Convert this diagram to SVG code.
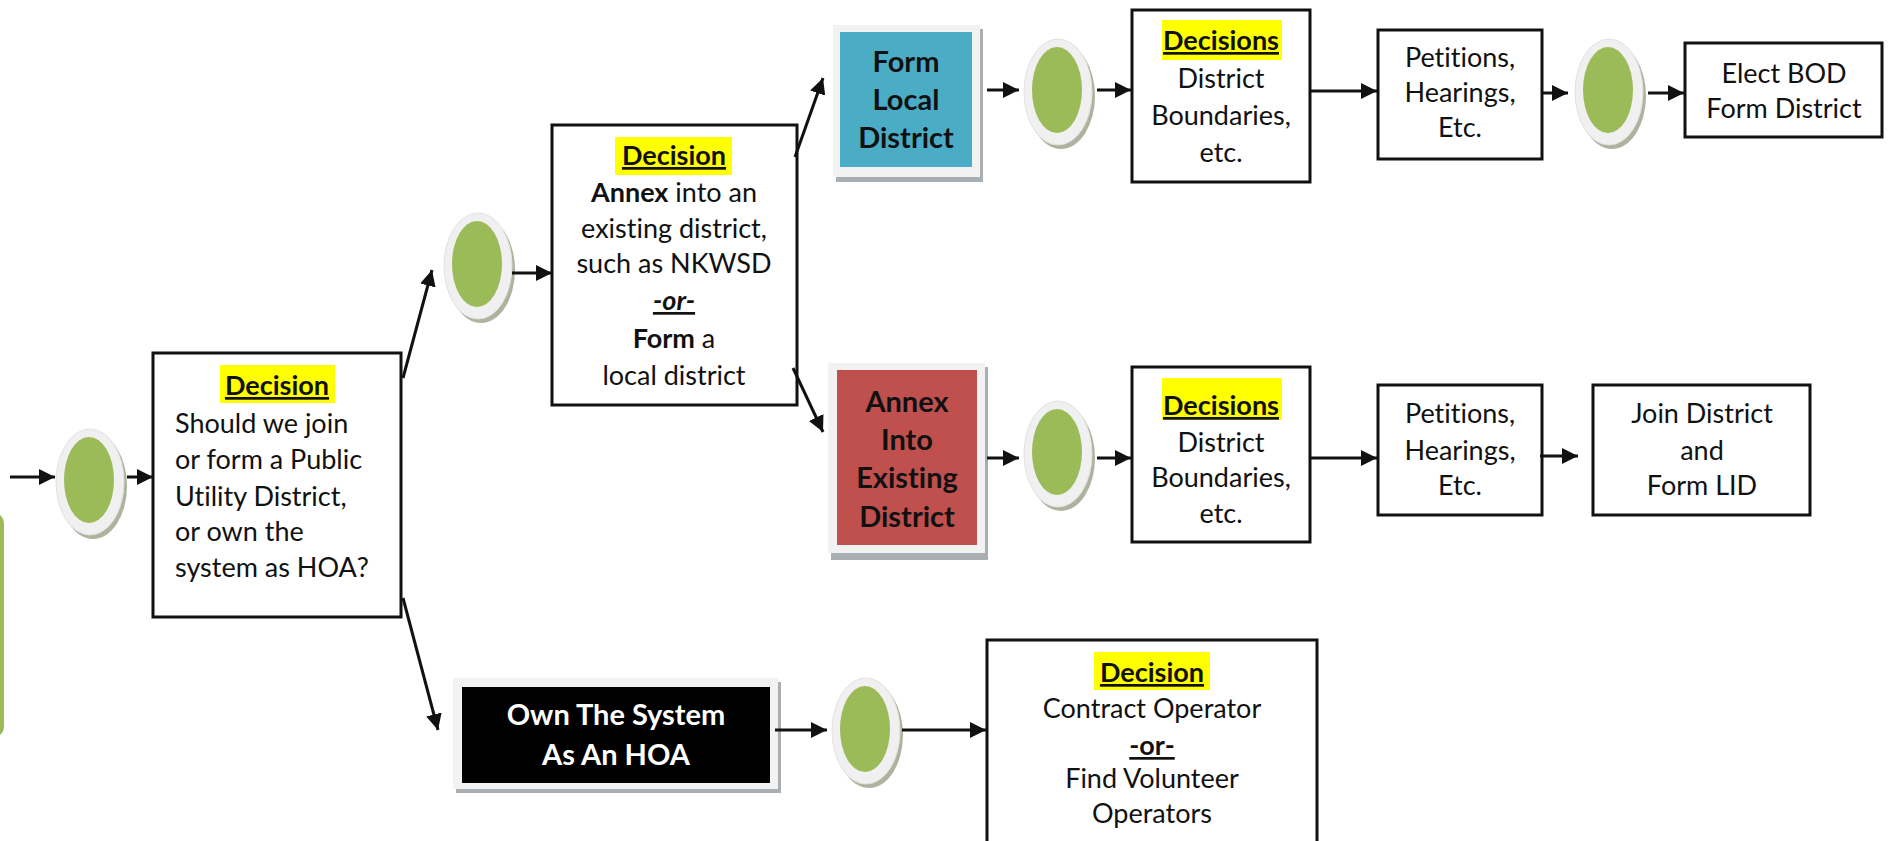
<svg xmlns="http://www.w3.org/2000/svg" xmlns:xlink="http://www.w3.org/1999/xlink" width="1888" height="841" viewBox="0 0 1888 841">
<style>
text{font-family:Lato,"Liberation Sans",sans-serif;font-size:27px;fill:#111;font-variant-ligatures:none;font-feature-settings:"liga" 0,"clig" 0;}
.c{text-anchor:middle;}
.b{font-weight:bold;}
.u{text-decoration:underline;}
.big{font-size:29px;}
.w{fill:#fff;font-size:29px;}
.box{fill:#fff;stroke:#111;stroke-width:3;}
.hl{fill:#ffff00;}
.frame{fill:#f2f2f2;}
.shadow{fill:#a9aeb3;}
.conn line{stroke:#111;stroke-width:3;marker-end:url(#ah);}
</style>
<defs>
<marker id="ah" markerUnits="userSpaceOnUse" markerWidth="18" markerHeight="18" refX="16" refY="8" orient="auto">
<path d="M0,0 L16,8 L0,16 z" fill="#111"/>
</marker>
<g id="oval">
<ellipse cx="4" cy="6" rx="34" ry="53" fill="#aeb39d"/>
<ellipse cx="1" cy="2" rx="34" ry="53" fill="#f0f0f0" stroke="#e2e2e2" stroke-width="1"/>
<ellipse cx="0" cy="0" rx="25" ry="43" fill="#9bbb59"/>
</g>
</defs>
<rect width="1888" height="841" fill="#fff"/>

<g id="sidebar"><rect x="-20" y="513" width="24" height="224" rx="10" fill="#9bbb59"/></g>

<g id="ovals">
<use xlink:href="#oval" href="#oval" transform="translate(89,480)"/>
<use xlink:href="#oval" href="#oval" transform="translate(477,264)"/>
<use xlink:href="#oval" href="#oval" transform="translate(1057,90)"/>
<use xlink:href="#oval" href="#oval" transform="translate(1608,90)"/>
<use xlink:href="#oval" href="#oval" transform="translate(1057,452)"/>
<use xlink:href="#oval" href="#oval" transform="translate(865,729)"/>
</g>

<g id="decision1">
<rect class="box" x="153" y="353" width="248" height="264"/>
<rect class="hl" x="220" y="365" width="115" height="38"/>
<text class="c b u" x="277" y="395">Decision</text>
<text x="175" y="433">Should we join</text>
<text x="175" y="469">or form a Public</text>
<text x="175" y="506">Utility District,</text>
<text x="175" y="541">or own the</text>
<text x="175" y="577">system as HOA?</text>
</g>

<g id="decision2">
<rect class="box" x="552" y="125" width="245" height="280"/>
<rect class="hl" x="615" y="137" width="117" height="38"/>
<text class="c b u" x="674" y="165">Decision</text>
<text class="c" x="674" y="202"><tspan class="b">Annex</tspan> into an</text>
<text class="c" x="674" y="238">existing district,</text>
<text class="c" x="674" y="273">such as NKWSD</text>
<text class="c b u" x="674" y="310" font-style="italic">-or-</text>
<text class="c" x="674" y="348"><tspan class="b">Form</tspan> a</text>
<text class="c" x="674" y="385"> local district</text>
</g>

<g id="formLocal">
<rect class="shadow" x="836" y="29" width="147" height="153"/>
<rect class="frame" x="833" y="25" width="147" height="152"/>
<rect x="840" y="32" width="132" height="135" fill="#4bacc6"/>
<text class="c b big" x="906" y="72">Form</text>
<text class="c b big" x="906" y="110">Local</text>
<text class="c b big" x="906" y="148">District</text>
</g>

<g id="decisionsTop">
<rect class="box" x="1132" y="10" width="178" height="172"/>
<rect class="hl" x="1162" y="20" width="120" height="40"/>
<text class="c b u" x="1221" y="50">Decisions</text>
<text class="c" x="1221" y="88">District</text>
<text class="c" x="1221" y="125">Boundaries,</text>
<text class="c" x="1221" y="162">etc.</text>
</g>

<g id="petitionsTop">
<rect class="box" x="1378" y="30" width="164" height="129"/>
<text class="c" x="1460" y="67">Petitions,</text>
<text class="c" x="1460" y="102">Hearings,</text>
<text class="c" x="1460" y="137">Etc.</text>
</g>

<g id="elect">
<rect class="box" x="1685" y="43" width="197" height="94"/>
<text class="c" x="1784" y="83">Elect BOD</text>
<text class="c" x="1784" y="118">Form District</text>
</g>

<g id="annex">
<rect class="shadow" x="831" y="367" width="157" height="193"/>
<rect class="frame" x="828" y="363" width="157" height="190"/>
<rect x="837" y="370" width="140" height="175" fill="#c0504d"/>
<text class="c b big" x="907" y="412">Annex</text>
<text class="c b big" x="907" y="450">Into</text>
<text class="c b big" x="907" y="488">Existing</text>
<text class="c b big" x="907" y="527">District</text>
</g>

<g id="decisionsMid">
<rect class="box" x="1132" y="367" width="178" height="175"/>
<rect class="hl" x="1162" y="378" width="120" height="42"/>
<text class="c b u" x="1221" y="415">Decisions</text>
<text class="c" x="1221" y="452">District</text>
<text class="c" x="1221" y="487">Boundaries,</text>
<text class="c" x="1221" y="523">etc.</text>
</g>

<g id="petitionsMid">
<rect class="box" x="1378" y="385" width="164" height="130"/>
<text class="c" x="1460" y="423">Petitions,</text>
<text class="c" x="1460" y="460">Hearings,</text>
<text class="c" x="1460" y="495">Etc.</text>
</g>

<g id="join">
<rect class="box" x="1593" y="385" width="217" height="130"/>
<text class="c" x="1702" y="423">Join District</text>
<text class="c" x="1702" y="460">and</text>
<text class="c" x="1702" y="495">Form LID</text>
</g>

<g id="ownHoa">
<rect class="shadow" x="456" y="682" width="325" height="111"/>
<rect class="frame" x="453" y="678" width="325" height="111"/>
<rect x="462" y="687" width="308" height="96" fill="#000"/>
<text class="c b w" x="616" y="725">Own The System</text>
<text class="c b w" x="616" y="765">As An HOA</text>
</g>

<g id="decision3">
<rect class="box" x="987" y="640" width="330" height="210"/>
<rect class="hl" x="1094" y="652" width="116" height="38"/>
<text class="c b u" x="1152" y="682">Decision</text>
<text class="c" x="1152" y="718">Contract Operator</text>
<text class="c b u" x="1152" y="755">-or-</text>
<text class="c" x="1152" y="788">Find Volunteer</text>
<text class="c" x="1152" y="823">Operators</text>
</g>

<g id="connectors" class="conn">
<line x1="10" y1="477" x2="55" y2="477"/>
<line x1="127" y1="477" x2="153" y2="477"/>
<line x1="403" y1="378" x2="432" y2="270"/>
<line x1="512" y1="273" x2="552" y2="273"/>
<line x1="795" y1="157" x2="823" y2="78"/>
<line x1="793" y1="368" x2="823" y2="432"/>
<line x1="403" y1="598" x2="438" y2="730"/>
<line x1="987" y1="90" x2="1019" y2="90"/>
<line x1="1097" y1="90" x2="1131" y2="90"/>
<line x1="1310" y1="91" x2="1377" y2="91"/>
<line x1="1542" y1="93" x2="1568" y2="93"/>
<line x1="1648" y1="93" x2="1684" y2="93"/>
<line x1="987" y1="458" x2="1019" y2="458"/>
<line x1="1097" y1="458" x2="1131" y2="458"/>
<line x1="1310" y1="458" x2="1377" y2="458"/>
<line x1="1540" y1="456" x2="1578" y2="456"/>
<line x1="775" y1="730" x2="827" y2="730"/>
<line x1="902" y1="730" x2="986" y2="730"/>
</g>
</svg>
